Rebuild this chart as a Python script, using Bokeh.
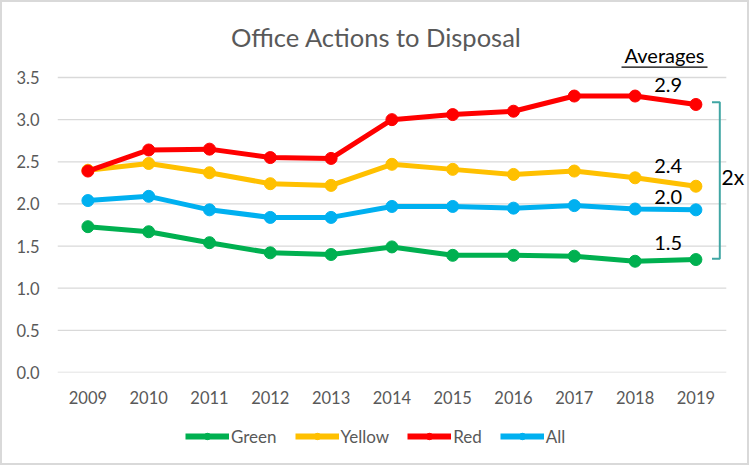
from bokeh.plotting import figure
from bokeh.layouts import column
from bokeh.models import (Range1d, FixedTicker, PrintfTickFormatter, Legend,
                          LegendItem, Label)
from bokeh.embed import file_html
from bokeh.resources import INLINE

# ---------------- data ----------------
years = [2009, 2010, 2011, 2012, 2013, 2014, 2015, 2016, 2017, 2018, 2019]
green = [1.73, 1.67, 1.54, 1.42, 1.40, 1.49, 1.39, 1.39, 1.38, 1.32, 1.34]
yellow = [2.40, 2.48, 2.37, 2.24, 2.22, 2.47, 2.41, 2.35, 2.39, 2.31, 2.21]
red = [2.39, 2.64, 2.65, 2.55, 2.54, 3.00, 3.06, 3.10, 3.28, 3.28, 3.18]
all_offices = [2.04, 2.09, 1.93, 1.84, 1.84, 1.97, 1.97, 1.95, 1.98, 1.94, 1.93]
series_names = ["Green", "Yellow", "Red", "All"]
average_labels = ["2.9", "2.4", "2.0", "1.5"]
y_ticks = [0.0, 0.5, 1.0, 1.5, 2.0, 2.5, 3.0, 3.5]
title_text = "Office Actions to Disposal"
averages_header = "Averages"
ratio_text = "2x"

# ---------------- layout / styles ----------------
colors = {"Green": "#00B050", "Yellow": "#FFC000", "Red": "#FF0000", "All": "#00B0F0"}
series = {"Green": green, "Yellow": yellow, "Red": red, "All": all_offices}
FONT = "Lato"
GREY = "#595959"
BW = 2                                   # chart border width (canvas is offset by it)
BORDER = f"{BW}px solid #D9D9D9"
W = 749
H_TOP, H_LEG = 412, 53
PAGE_FRAME_LEFT, PAGE_FRAME_BOTTOM = 57, 372   # plot area in page pixels
FRAME_LEFT = PAGE_FRAME_LEFT - BW              # in canvas pixels
FRAME_BOTTOM = PAGE_FRAME_BOTTOM - BW
PX_PER_YEAR = 60.8
PX_PER_UNIT = 295 / 3.5
X0 = years[0] - 0.5
X1 = years[-1] + 0.5


def dx(page_px):
    return X0 + (page_px - PAGE_FRAME_LEFT) / PX_PER_YEAR


def dy(page_py):
    return (PAGE_FRAME_BOTTOM - page_py) / PX_PER_UNIT


p = figure(width=W, height=H_TOP,
           x_range=Range1d(X0, dx(W + BW)), y_range=Range1d(0, dy(BW)),
           output_backend="svg", toolbar_location=None,
           min_border_left=FRAME_LEFT, min_border_right=0,
           min_border_top=0, min_border_bottom=H_TOP - FRAME_BOTTOM)
p.title = None
p.outline_line_color = None
p.background_fill_color = "white"
p.border_fill_color = "white"
p.styles = {"border-top": BORDER, "border-left": BORDER, "border-right": BORDER}

p.xgrid.grid_line_color = None
p.ygrid.grid_line_color = None

# horizontal gridlines across the plot area
p.segment(x0=[X0] * len(y_ticks), x1=[X1] * len(y_ticks), y0=y_ticks, y1=y_ticks,
          line_color="#D9D9D9", line_width=1.3)

p.xaxis.ticker = FixedTicker(ticks=years)
p.yaxis.ticker = FixedTicker(ticks=y_ticks)
p.yaxis.formatter = PrintfTickFormatter(format="%.1f")
for ax in (p.xaxis, p.yaxis):
    ax.axis_line_color = None
    ax.major_tick_line_color = None
    ax.minor_tick_line_color = None
    ax.major_tick_out = 0
    ax.major_tick_in = 0
    ax.major_label_text_font = FONT
    ax.major_label_text_font_size = "16.5px"
    ax.major_label_text_color = GREY
p.yaxis.major_label_standoff = 18
p.xaxis.major_label_standoff = 18

for name in series_names:
    vals = series[name]
    p.line(years, vals, line_color=colors[name], line_width=5)
    p.scatter(years, vals, size=12, fill_color=colors[name], line_color=colors[name])

# ---------------- annotations ----------------
p.add_layout(Label(x=dx(375.8), y=dy(36.0), text=title_text, text_align="center",
                   text_baseline="middle", text_font=FONT, text_font_size="25.5px",
                   text_color=GREY))
p.add_layout(Label(x=dx(664.0), y=dy(54.0), text=averages_header, text_align="center",
                   text_baseline="middle", text_font=FONT, text_font_size="20px",
                   text_color="black"))
p.line([dx(621), dx(707)], [dy(66.7), dy(66.7)], line_color="black", line_width=1.3)

avg_px_y = [84.5, 165.3, 196.0, 242.8]
for txt, py in zip(average_labels, avg_px_y):
    p.add_layout(Label(x=dx(667.7), y=dy(py), text=txt, text_align="center",
                       text_baseline="middle", text_font=FONT, text_font_size="20px",
                       text_color="black"))

# bracket spanning Red to Green end values
top = red[-1] + 0.025
bottom = green[-1] + 0.01
bx, btick = dx(719.3), dx(711.5)
p.line([btick, bx, bx, btick], [top, top, bottom, bottom], line_color="#40A6A4", line_width=2)
p.add_layout(Label(x=dx(732.3), y=dy(175.5), text=ratio_text, text_align="center",
                   text_baseline="middle", text_font=FONT, text_font_size="21px",
                   text_color="black"))

# ---------------- legend strip ----------------
q = figure(width=W, height=H_LEG, x_range=Range1d(0, 1), y_range=Range1d(0, 1),
           output_backend="svg", toolbar_location=None,
           x_axis_location=None, y_axis_location=None,
           min_border_left=0, min_border_right=0, min_border_top=0, min_border_bottom=0)
q.title = None
q.outline_line_color = None
q.xgrid.grid_line_color = None
q.ygrid.grid_line_color = None
q.border_fill_color = "white"
q.background_fill_color = "white"
q.styles = {"border-left": BORDER, "border-right": BORDER, "border-bottom": BORDER}

items = []
for name in series_names:
    vals = series[name]
    # same series drawn outside this strip's visible range; used only as legend proxies
    ln = q.line(years, vals, line_color=colors[name], line_width=6)
    sc = q.scatter(years, vals, size=10, fill_color=colors[name], line_color=colors[name])
    items.append(LegendItem(label=name, renderers=[ln, sc]))

# the column aligns this strip's frame with the chart's plot area
leg_top_in_strip = 430.5 - H_TOP
legend = Legend(items=items, orientation="horizontal",
                location=(185 - PAGE_FRAME_LEFT, H_LEG - leg_top_in_strip - 16),
                padding=0, margin=0, spacing=18, label_standoff=2,
                glyph_width=44, glyph_height=16, label_height=16,
                label_text_font=FONT, label_text_font_size="17px",
                label_text_color=GREY, border_line_color=None,
                background_fill_alpha=0)
q.add_layout(legend)

layout = column(p, q, spacing=0)
open("out.html", "w").write(file_html(layout, INLINE))
